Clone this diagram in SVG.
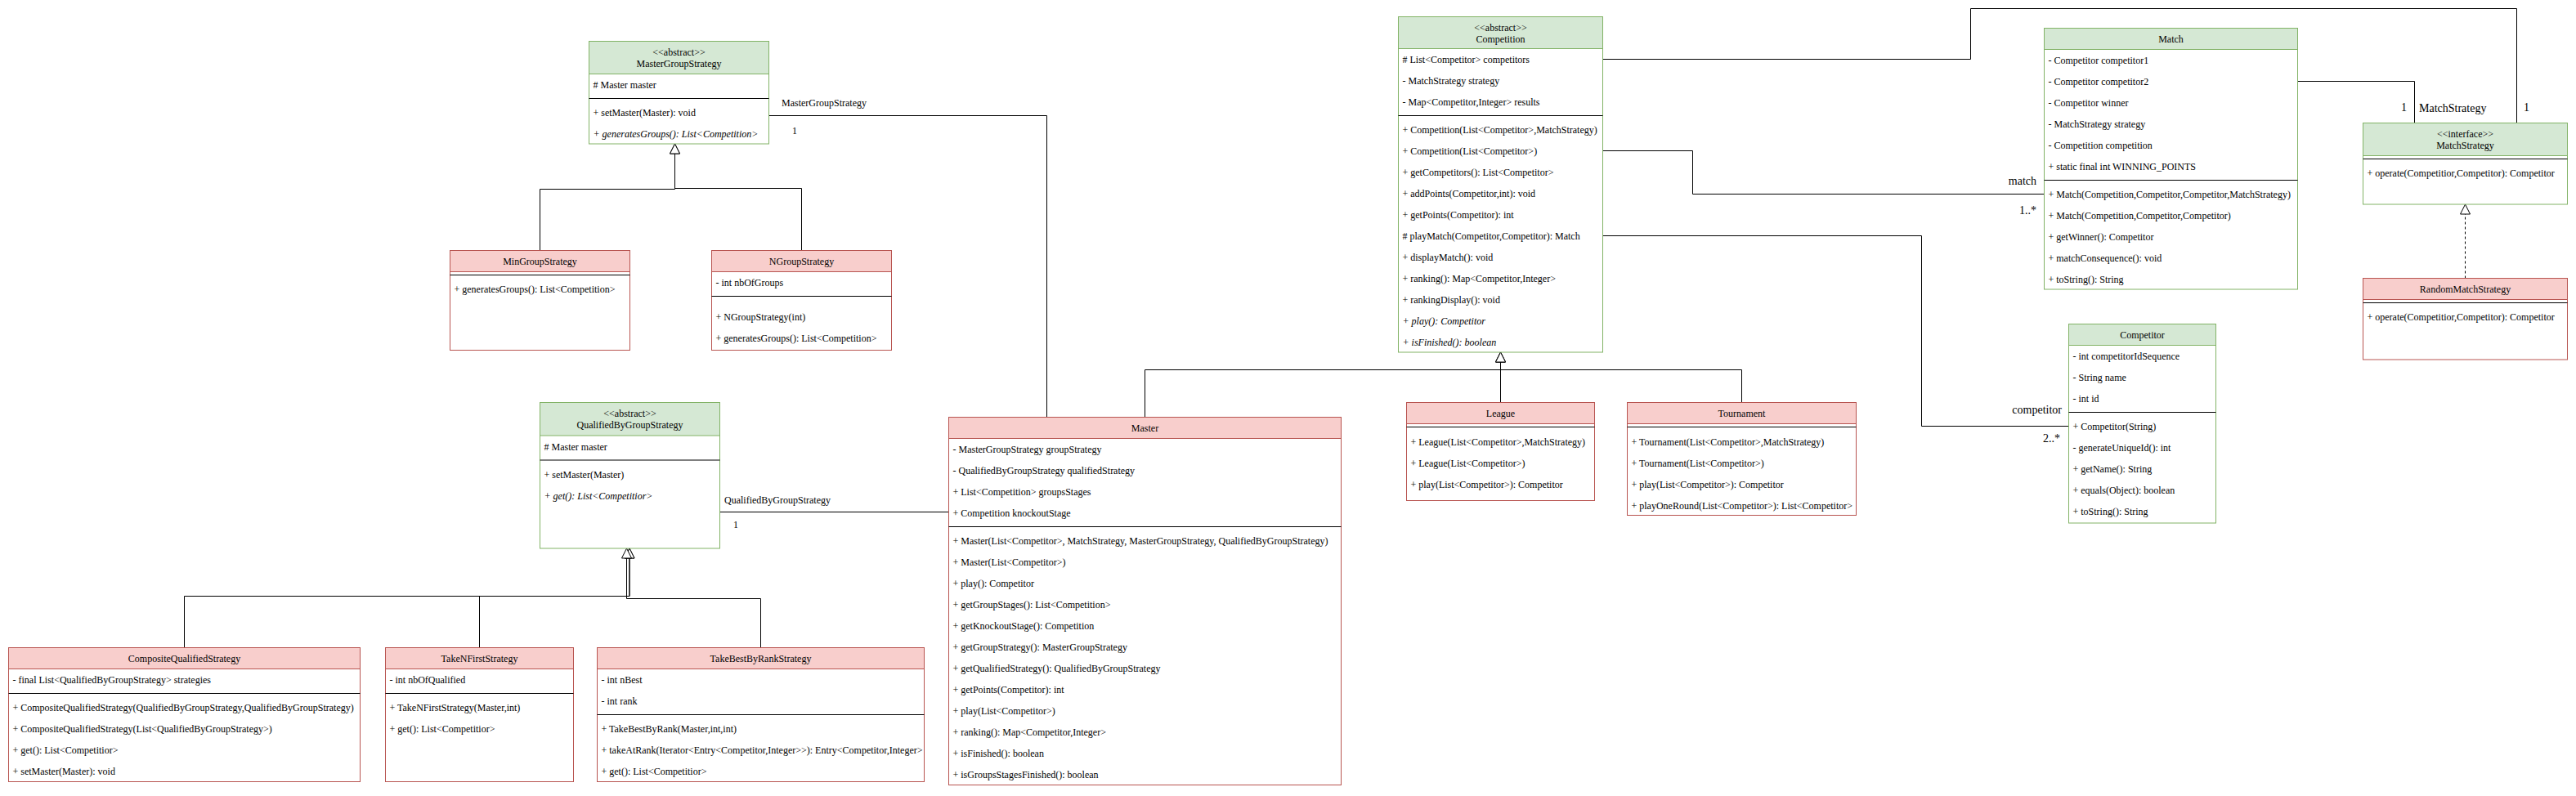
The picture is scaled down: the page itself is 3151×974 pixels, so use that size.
<svg xmlns="http://www.w3.org/2000/svg" width="3151" height="974" viewBox="0 0 3151 974">
<style>
text{font-family:"Liberation Serif","Times New Roman",serif;font-size:12px;fill:#000}
.c{text-anchor:middle}
.e{text-anchor:end}
.i{font-style:italic}
.lb{font-size:14px}
.body{fill:#fff}
.gh{fill:#d5e8d4;stroke:#82b366}
.gb{fill:#fff;stroke:#82b366}
.rh{fill:#f8cecc;stroke:#b85450}
.rb{fill:#fff;stroke:#b85450}
.sep{stroke:#000;stroke-width:1}
.edge{fill:none;stroke:#000;stroke-width:1}
.gen{marker-end:url(#tri)}
.dash{stroke-dasharray:3 3}
</style>
<defs>
<marker id="tri" viewBox="0 0 14 14" refX="13" refY="7" markerWidth="14" markerHeight="14" markerUnits="userSpaceOnUse" orient="auto">
<path d="M1,1 L13,7 L1,13 Z" fill="#fff" stroke="#000" stroke-width="1"/>
</marker>
</defs>
<rect x="0" y="0" width="3151" height="974" fill="#fff"/>

<g id="connectors">
<path class="edge gen" d="M660.5,306.5 V231.5 H825.5 V176"/>
<path class="edge gen" d="M980.5,306.5 V230.5 H825.5 V176"/>
<path class="edge gen" d="M225.5,792.5 V729.5 H770 V671"/>
<path class="edge gen" d="M586.5,792.5 V729.5 H770 V671"/>
<path class="edge gen" d="M930.5,792.5 V732.5 H766.5 V671"/>
<path class="edge" d="M941,141.5 H1280.5 V510.5"/>
<path class="edge" d="M880.5,626.5 H1160.5"/>
<path class="edge gen" d="M1400.5,510.5 V452.5 H1835.5 V431"/>
<path class="edge gen" d="M1835.5,492.5 V431"/>
<path class="edge gen" d="M2130.5,492.5 V452.5 H1835.5 V431"/>
<path class="edge" d="M1960.5,72.5 H2410.5 V10.5 H3078.5 V150.5"/>
<path class="edge" d="M1960.5,184.5 H2070.5 V237.5 H2500.5"/>
<path class="edge" d="M1960.5,288.5 H2350.5 V521.5 H2530.5"/>
<path class="edge" d="M2810.5,99.5 H2953.5 V150.5"/>
<path class="edge gen dash" d="M3015.5,340.5 V250"/>
<text x="956" y="129.7">MasterGroupStrategy</text>
<text class="c" x="972" y="164">1</text>
<text x="886" y="616">QualifiedByGroupStrategy</text>
<text class="c" x="900" y="646">1</text>
<text class="lb e" x="2491" y="226">match</text>
<text class="lb e" x="2491" y="262">1..*</text>
<text class="lb e" x="2522" y="506">competitor</text>
<text class="lb e" x="2520" y="541">2..*</text>
<text class="lb c" x="2940.5" y="136">1</text>
<text class="lb" x="2959" y="136.5">MatchStrategy</text>
<text class="lb c" x="3090.5" y="136">1</text>
</g>

<g id="MasterGroupStrategy">
<rect class="gb" x="720.5" y="50.5" width="220" height="125.5"/>
<rect class="gh" x="720.5" y="50.5" width="220" height="40"/>
<line class="sep" x1="720.5" y1="120.5" x2="940.5" y2="120.5"/>
<text class="c" x="830.5" y="67.7">&lt;&lt;abstract&gt;&gt;</text>
<text class="c" x="830.5" y="81.7">MasterGroupStrategy</text>
<text x="725.5" y="107.7"># Master master</text>
<text x="725.5" y="141.7">+ setMaster(Master): void</text>
<text class="i" x="725.5" y="167.7">+ generatesGroups(): List&lt;Competition&gt;</text>
</g>

<g id="MinGroupStrategy">
<rect class="rb" x="550.5" y="306.5" width="220" height="122"/>
<rect class="rh" x="550.5" y="306.5" width="220" height="26"/>
<line class="sep" x1="550.5" y1="336.5" x2="770.5" y2="336.5"/>
<text class="c" x="660.5" y="323.7">MinGroupStrategy</text>
<text x="555.5" y="357.7">+ generatesGroups(): List&lt;Competition&gt;</text>
</g>

<g id="NGroupStrategy">
<rect class="rb" x="870.5" y="306.5" width="220" height="122"/>
<rect class="rh" x="870.5" y="306.5" width="220" height="26"/>
<line class="sep" x1="870.5" y1="362.5" x2="1090.5" y2="362.5"/>
<text class="c" x="980.5" y="323.7">NGroupStrategy</text>
<text x="875.5" y="350">- int nbOfGroups</text>
<text x="875.5" y="392.3">+ NGroupStrategy(int)</text>
<text x="875.5" y="418.3">+ generatesGroups(): List&lt;Competition&gt;</text>
</g>

<g id="QualifiedByGroupStrategy">
<rect class="gb" x="660.5" y="492.5" width="220" height="178.5"/>
<rect class="gh" x="660.5" y="492.5" width="220" height="40.5"/>
<line class="sep" x1="660.5" y1="563" x2="880.5" y2="563"/>
<text class="c" x="770.5" y="509.7">&lt;&lt;abstract&gt;&gt;</text>
<text class="c" x="770.5" y="524">QualifiedByGroupStrategy</text>
<text x="665.5" y="550.7"># Master master</text>
<text x="665.5" y="584.7">+ setMaster(Master)</text>
<text class="i" x="665.5" y="610.7">+ get(): List&lt;Competitior&gt;</text>
</g>

<g id="CompositeQualifiedStrategy">
<rect class="rb" x="10.5" y="792.5" width="430" height="164"/>
<rect class="rh" x="10.5" y="792.5" width="430" height="26"/>
<line class="sep" x1="10.5" y1="848.5" x2="440.5" y2="848.5"/>
<text class="c" x="225.5" y="809.7">CompositeQualifiedStrategy</text>
<text x="15.5" y="836">- final List&lt;QualifiedByGroupStrategy&gt; strategies</text>
<text x="15.5" y="870">+ CompositeQualifiedStrategy(QualifiedByGroupStrategy,QualifiedByGroupStrategy)</text>
<text x="15.5" y="896">+ CompositeQualifiedStrategy(List&lt;QualifiedByGroupStrategy&gt;)</text>
<text x="15.5" y="922">+ get(): List&lt;Competitior&gt;</text>
<text x="15.5" y="948">+ setMaster(Master): void</text>
</g>

<g id="TakeNFirstStrategy">
<rect class="rb" x="471.5" y="792.5" width="230" height="164"/>
<rect class="rh" x="471.5" y="792.5" width="230" height="26"/>
<line class="sep" x1="471.5" y1="848.5" x2="701.5" y2="848.5"/>
<text class="c" x="586.5" y="809.7">TakeNFirstStrategy</text>
<text x="476.5" y="836">- int nbOfQualified</text>
<text x="476.5" y="870">+ TakeNFirstStrategy(Master,int)</text>
<text x="476.5" y="896">+ get(): List&lt;Competitior&gt;</text>
</g>

<g id="TakeBestByRankStrategy">
<rect class="rb" x="730.5" y="792.5" width="400" height="164"/>
<rect class="rh" x="730.5" y="792.5" width="400" height="26"/>
<line class="sep" x1="730.5" y1="874.5" x2="1130.5" y2="874.5"/>
<text class="c" x="930.5" y="809.7">TakeBestByRankStrategy</text>
<text x="735.5" y="835.7">- int nBest</text>
<text x="735.5" y="861.7">- int rank</text>
<text x="735.5" y="896">+ TakeBestByRank(Master,int,int)</text>
<text x="735.5" y="922">+ takeAtRank(Iterator&lt;Entry&lt;Competitor,Integer&gt;&gt;): Entry&lt;Competitor,Integer&gt;</text>
<text x="735.5" y="948">+ get(): List&lt;Competitior&gt;</text>
</g>

<g id="Master">
<rect class="rb" x="1160.5" y="510.5" width="480" height="450"/>
<rect class="rh" x="1160.5" y="510.5" width="480" height="26"/>
<line class="sep" x1="1160.5" y1="644.5" x2="1640.5" y2="644.5"/>
<text class="c" x="1400.5" y="527.7">Master</text>
<text x="1165.5" y="554">- MasterGroupStrategy groupStrategy</text>
<text x="1165.5" y="580">- QualifiedByGroupStrategy qualifiedStrategy</text>
<text x="1165.5" y="606">+ List&lt;Competition&gt; groupsStages</text>
<text x="1165.5" y="632">+ Competition knockoutStage</text>
<text x="1165.5" y="666">+ Master(List&lt;Competitor&gt;, MatchStrategy, MasterGroupStrategy, QualifiedByGroupStrategy)</text>
<text x="1165.5" y="692">+ Master(List&lt;Competitor&gt;)</text>
<text x="1165.5" y="718">+ play(): Competitor</text>
<text x="1165.5" y="744">+ getGroupStages(): List&lt;Competition&gt;</text>
<text x="1165.5" y="770">+ getKnockoutStage(): Competition</text>
<text x="1165.5" y="796">+ getGroupStrategy(): MasterGroupStrategy</text>
<text x="1165.5" y="822">+ getQualifiedStrategy(): QualifiedByGroupStrategy</text>
<text x="1165.5" y="848">+ getPoints(Competitor): int</text>
<text x="1165.5" y="874">+ play(List&lt;Competitor&gt;)</text>
<text x="1165.5" y="900">+ ranking(): Map&lt;Competitor,Integer&gt;</text>
<text x="1165.5" y="926">+ isFinished(): boolean</text>
<text x="1165.5" y="952">+ isGroupsStagesFinished(): boolean</text>
</g>

<g id="Competition">
<rect class="gb" x="1710.5" y="20.5" width="250" height="410.5"/>
<rect class="gh" x="1710.5" y="20.5" width="250" height="39"/>
<line class="sep" x1="1710.5" y1="141.5" x2="1960.5" y2="141.5"/>
<text class="c" x="1835.5" y="38">&lt;&lt;abstract&gt;&gt;</text>
<text class="c" x="1835.5" y="51.7">Competition</text>
<text x="1715.5" y="77"># List&lt;Competitor&gt; competitors</text>
<text x="1715.5" y="103">- MatchStrategy strategy</text>
<text x="1715.5" y="129">- Map&lt;Competitor,Integer&gt; results</text>
<text x="1715.5" y="163">+ Competition(List&lt;Competitor&gt;,MatchStrategy)</text>
<text x="1715.5" y="189">+ Competition(List&lt;Competitor&gt;)</text>
<text x="1715.5" y="215">+ getCompetitors(): List&lt;Competitor&gt;</text>
<text x="1715.5" y="241">+ addPoints(Competitor,int): void</text>
<text x="1715.5" y="267">+ getPoints(Competitor): int</text>
<text x="1715.5" y="293"># playMatch(Competitor,Competitor): Match</text>
<text x="1715.5" y="319">+ displayMatch(): void</text>
<text x="1715.5" y="345">+ ranking(): Map&lt;Competitor,Integer&gt;</text>
<text x="1715.5" y="371">+ rankingDisplay(): void</text>
<text class="i" x="1715.5" y="397">+ play(): Competitor</text>
<text class="i" x="1715.5" y="423">+ isFinished(): boolean</text>
</g>

<g id="League">
<rect class="rb" x="1720.5" y="492.5" width="230" height="120"/>
<rect class="rh" x="1720.5" y="492.5" width="230" height="26"/>
<line class="sep" x1="1720.5" y1="522.5" x2="1950.5" y2="522.5"/>
<text class="c" x="1835.5" y="510">League</text>
<text x="1725.5" y="544.7">+ League(List&lt;Competitor&gt;,MatchStrategy)</text>
<text x="1725.5" y="570.7">+ League(List&lt;Competitor&gt;)</text>
<text x="1725.5" y="596.7">+ play(List&lt;Competitor&gt;): Competitor</text>
</g>

<g id="Tournament">
<rect class="rb" x="1990.5" y="492.5" width="280" height="138"/>
<rect class="rh" x="1990.5" y="492.5" width="280" height="26"/>
<line class="sep" x1="1990.5" y1="522.5" x2="2270.5" y2="522.5"/>
<text class="c" x="2130.5" y="510">Tournament</text>
<text x="1995.5" y="544.7">+ Tournament(List&lt;Competitor&gt;,MatchStrategy)</text>
<text x="1995.5" y="570.7">+ Tournament(List&lt;Competitor&gt;)</text>
<text x="1995.5" y="596.7">+ play(List&lt;Competitor&gt;): Competitor</text>
<text x="1995.5" y="622.7">+ playOneRound(List&lt;Competitor&gt;): List&lt;Competitor&gt;</text>
</g>

<g id="Match">
<rect class="gb" x="2500.5" y="34.5" width="310" height="319.5"/>
<rect class="gh" x="2500.5" y="34.5" width="310" height="26"/>
<line class="sep" x1="2500.5" y1="220.5" x2="2810.5" y2="220.5"/>
<text class="c" x="2655.5" y="51.7">Match</text>
<text x="2505.5" y="78">- Competitor competitor1</text>
<text x="2505.5" y="104">- Competitor competitor2</text>
<text x="2505.5" y="130">- Competitor winner</text>
<text x="2505.5" y="156">- MatchStrategy strategy</text>
<text x="2505.5" y="182">- Competition competition</text>
<text x="2505.5" y="208">+ static final int WINNING_POINTS</text>
<text x="2505.5" y="242">+ Match(Competition,Competitor,Competitor,MatchStrategy)</text>
<text x="2505.5" y="268">+ Match(Competition,Competitor,Competitor)</text>
<text x="2505.5" y="294">+ getWinner(): Competitor</text>
<text x="2505.5" y="320">+ matchConsequence(): void</text>
<text x="2505.5" y="346">+ toString(): String</text>
</g>

<g id="Competitor">
<rect class="gb" x="2530.5" y="396.5" width="180" height="243.5"/>
<rect class="gh" x="2530.5" y="396.5" width="180" height="26"/>
<line class="sep" x1="2530.5" y1="504.5" x2="2710.5" y2="504.5"/>
<text class="c" x="2620.5" y="414">Competitor</text>
<text x="2535.5" y="440">- int competitorIdSequence</text>
<text x="2535.5" y="466">- String name</text>
<text x="2535.5" y="492">- int id</text>
<text x="2535.5" y="526.3">+ Competitor(String)</text>
<text x="2535.5" y="552.3">- generateUniqueId(): int</text>
<text x="2535.5" y="578.3">+ getName(): String</text>
<text x="2535.5" y="604.3">+ equals(Object): boolean</text>
<text x="2535.5" y="630.3">+ toString(): String</text>
</g>

<g id="MatchStrategy">
<rect class="gb" x="2890.5" y="150.5" width="250" height="99.5"/>
<rect class="gh" x="2890.5" y="150.5" width="250" height="40"/>
<line class="sep" x1="2890.5" y1="194.5" x2="3140.5" y2="194.5"/>
<text class="c" x="3015.5" y="167.7">&lt;&lt;interface&gt;&gt;</text>
<text class="c" x="3015.5" y="181.7">MatchStrategy</text>
<text x="2895.5" y="216">+ operate(Competitior,Competitor): Competitor</text>
</g>

<g id="RandomMatchStrategy">
<rect class="rb" x="2890.5" y="340.5" width="250" height="99.5"/>
<rect class="rh" x="2890.5" y="340.5" width="250" height="26"/>
<line class="sep" x1="2890.5" y1="370.5" x2="3140.5" y2="370.5"/>
<text class="c" x="3015.5" y="357.7">RandomMatchStrategy</text>
<text x="2895.5" y="391.7">+ operate(Competitior,Competitor): Competitor</text>
</g>
</svg>
